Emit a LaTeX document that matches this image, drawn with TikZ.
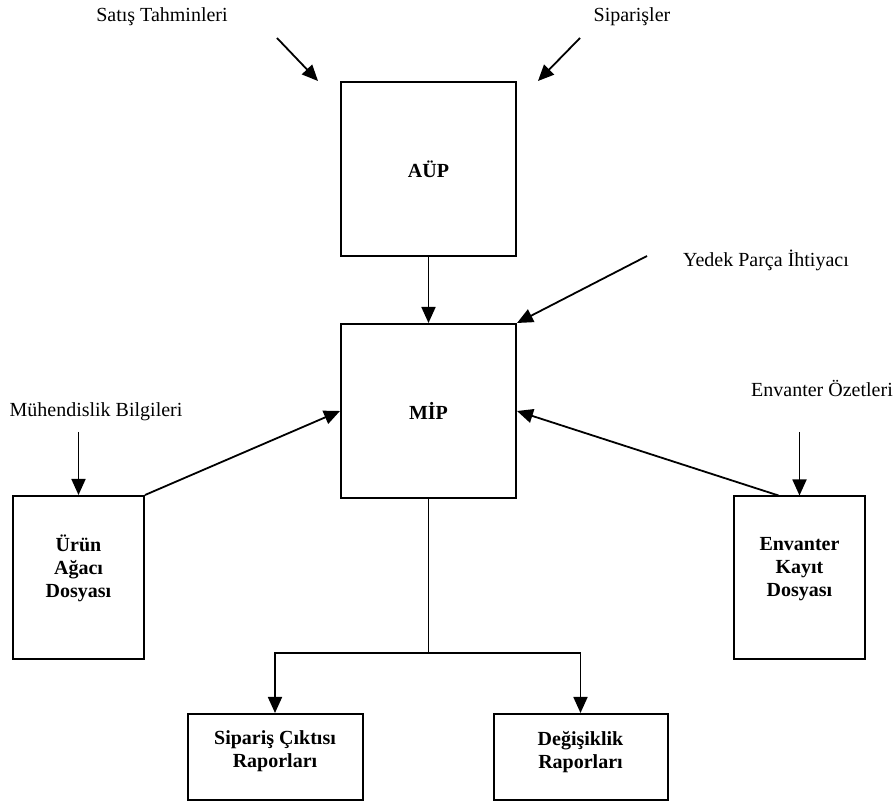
\documentclass[tikz,border=0pt]{standalone}
\usepackage{fontspec}
\setmainfont{Liberation Serif}
\usetikzlibrary{arrows.meta, positioning, calc}

\begin{document}
\begin{tikzpicture}[
    x=0.5pt, y=-0.5pt,
    every node/.style={font=\fontsize{10}{11.5}\selectfont, align=center},
    box/.style={rectangle, draw=black, fill=white, line width=1pt, inner sep=2pt, font=\fontsize{10}{11.5}\selectfont\bfseries},
    planbox/.style={box, minimum width=87.5pt, minimum height=87pt},
    filebox/.style={box, minimum width=65.5pt, minimum height=81.5pt},
    reportbox/.style={box, minimum width=87.5pt, minimum height=43pt},
    note/.style={inner sep=0pt},
    arrow/.style={-{Triangle[length=8pt, width=7pt]}, draw=black, line width=0.9pt},
    link/.style={draw=black, line width=0.9pt}
  ]
    \useasboundingbox (0,0) rectangle (896,802);

    % Plans
    \node[planbox] (aup) at (428.5,169) {AÜP};
    \node[planbox, below=33pt of aup] (mip) {MİP};

    % Files
    \node[filebox] (urun) at (78.5,577.5) {Ürün\\Ağacı\\Dosyası\\\mbox{}};
    \node[filebox] (envanter) at (799.5,578) {Envanter\\Kayıt\\Dosyası\\\mbox{}};

    % Reports
    \node[reportbox] (siparis) at (275,757) {Sipariş Çıktısı\\Raporları\\[-4pt]\mbox{}};
    \node[reportbox, minimum width=87pt] (degisiklik) at (580.5,757) {Değişiklik\\Raporları\\[-4pt]\mbox{}};

    % Inputs
    \node[note] (satis) at (162,17) {Satış Tahminleri};
    \node[note] (siparisler) at (632,17) {Siparişler};
    \node[note] (yedek) at (766,260) {Yedek Parça İhtiyacı};
    \node[note] (muhendislik) at (96,412) {Mühendislik Bilgileri};
    \node[note] (ozet) at (822,388) {Envanter Özetleri};

    % Free ends
    \coordinate (satisTop) at (277,38);
    \coordinate (satisTip) at (318,81);
    \coordinate (siparislerTop) at (580,38);
    \coordinate (siparislerTip) at (538,81);
    \coordinate (yedekStart) at (647,256);
    \coordinate (muhStart) at (78.5,432);
    \coordinate (ozetStart) at (799.5,432);
    \coordinate (envLink) at ($(envanter.north)+(-21,0)$);

    % Connections
    \draw[arrow] (satisTop) -- (satisTip);
    \draw[arrow] (siparislerTop) -- (siparislerTip);
    \draw[arrow] (aup) -- (mip);
    \draw[arrow] (yedekStart) -- (mip.north east);
    \draw[arrow] (muhStart) -- (urun);
    \draw[arrow] (urun.north east) -- (mip.west);
    \draw[arrow] (ozetStart) -- (envanter);
    \draw[arrow] (envLink) -- (mip.east);
    \draw[link] (mip.south) -- ++(0,154) coordinate (split);
    \draw[arrow] (split) -| (siparis);
    \draw[arrow] (split) -| (degisiklik);
\end{tikzpicture}
\end{document}
